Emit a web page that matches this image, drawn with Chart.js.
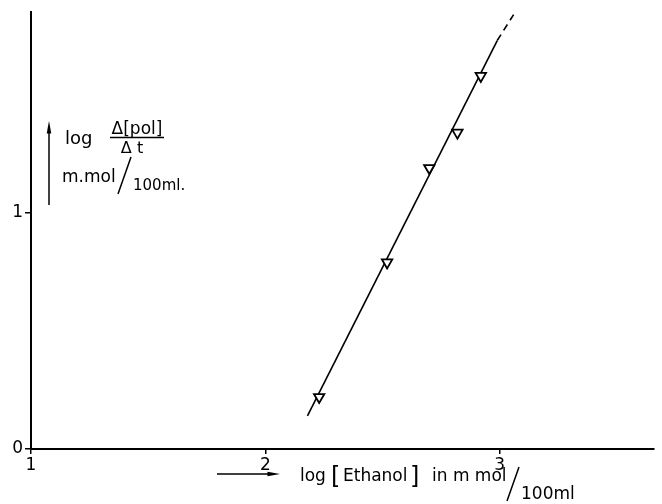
<!DOCTYPE html>
<html>
<head>
<meta charset="utf-8">
<script src="https://cdn.jsdelivr.net/npm/chart.js@4.4.1/dist/chart.umd.min.js"></script>
<style>
  html, body { margin: 0; padding: 0; background: #fff; }
</style>
</head>
<body>
<canvas id="plot" width="662" height="504"></canvas>
<script>
// values
const xTicks = [1, 2, 3];
const yTicks = [0, 1];
const logEthanol = [2.23, 2.52, 2.70, 2.82, 2.92];
const logRate = [0.22, 0.79, 1.19, 1.34, 1.58];
const fitX = [2.18, 2.99];
const fitY = [0.14, 1.73];
const extX = [2.99, 3.06];
const extY = [1.73, 1.84];

const FONT = "'DejaVu Sans', 'Liberation Sans', sans-serif";

function toPoints(xs, ys) {
  return xs.map((x, i) => ({ x: x, y: ys[i] }));
}

function drawArrow(c, x1, y1, x2, y2) {
  const ang = Math.atan2(y2 - y1, x2 - x1);
  c.beginPath();
  c.moveTo(x1, y1);
  c.lineTo(x2, y2);
  c.stroke();
  c.beginPath();
  c.moveTo(x2 + Math.cos(ang) * 7, y2 + Math.sin(ang) * 7);
  c.lineTo(x2 + Math.cos(ang + 2.75) * 6, y2 + Math.sin(ang + 2.75) * 6);
  c.lineTo(x2 + Math.cos(ang - 2.75) * 6, y2 + Math.sin(ang - 2.75) * 6);
  c.closePath();
  c.fill();
}

function text(c, s, x, y, size, align) {
  c.font = size + "px " + FONT;
  c.textAlign = align || "left";
  c.fillText(s, x, y);
}

const axisLabels = {
  id: "axisLabels",
  afterDraw(chart) {
    const c = chart.ctx;
    c.save();
    c.fillStyle = "#000";
    c.strokeStyle = "#000";
    c.lineWidth = 1.5;
    c.textBaseline = "alphabetic";

    // y title
    drawArrow(c, 49, 205, 49, 128);
    text(c, "log", 65, 144, 18);
    text(c, "Δ[pol]", 137, 134, 17, "center");
    c.beginPath();
    c.moveTo(110, 137.5);
    c.lineTo(164, 137.5);
    c.stroke();
    text(c, "Δ t", 132, 153, 16, "center");
    text(c, "m.mol", 62, 182, 17);
    c.beginPath();
    c.moveTo(118, 194);
    c.lineTo(131, 157);
    c.stroke();
    text(c, "100ml.", 133, 190, 15);

    // x title
    drawArrow(c, 217, 474, 273, 474);
    text(c, "log", 300, 481, 17);
    text(c, "[", 331, 484, 24);
    text(c, "Ethanol", 343, 481, 17);
    text(c, "]", 410, 484, 24);
    text(c, "in m mol", 432, 481, 17);
    c.beginPath();
    c.moveTo(507, 501);
    c.lineTo(519, 467);
    c.stroke();
    text(c, "100ml", 521, 499, 17);

    c.restore();
  }
};

const ctx = document.getElementById("plot").getContext("2d");

const chart = new Chart(ctx, {
  type: "scatter",
  data: {
    datasets: [
      {
        data: toPoints(logEthanol, logRate),
        pointStyle: "triangle",
        rotation: 180,
        pointRadius: 6,
        pointBackgroundColor: "#fff",
        pointBorderColor: "#000",
        pointBorderWidth: 1.8,
        showLine: false
      },
      {
        data: toPoints(fitX, fitY),
        showLine: true,
        borderColor: "#000",
        borderWidth: 1.6,
        pointRadius: 0
      },
      {
        data: toPoints(extX, extY),
        showLine: true,
        borderColor: "#000",
        borderWidth: 1.6,
        borderDash: [7, 5],
        pointRadius: 0
      }
    ]
  },
  options: {
    responsive: false,
    animation: false,
    devicePixelRatio: 1,
    layout: {
      padding: { top: 12, left: 0, right: 0, bottom: 0 }
    },
    plugins: {
      legend: { display: false },
      tooltip: { enabled: false }
    },
    scales: {
      x: {
        type: "linear",
        min: 1,
        max: 3.66,
        afterBuildTicks: (s) => {
          s.ticks = xTicks.map((v) => ({ value: v }));
        },
        afterFit: (s) => {
          s.height = 55;
        },
        ticks: {
          color: "#000",
          padding: 1,
          font: { family: FONT, size: 17 }
        },
        grid: {
          drawOnChartArea: false,
          tickLength: 5,
          color: "#000",
          lineWidth: 1.5
        },
        border: { color: "#000", width: 2 }
      },
      y: {
        type: "linear",
        min: 0,
        max: 1.85,
        afterBuildTicks: (s) => {
          s.ticks = yTicks.map((v) => ({ value: v }));
        },
        afterFit: (s) => {
          s.width = 31;
        },
        ticks: {
          color: "#000",
          padding: 2,
          font: { family: FONT, size: 17 }
        },
        grid: {
          drawOnChartArea: false,
          tickLength: 6,
          color: "#000",
          lineWidth: 1.5
        },
        border: { color: "#000", width: 2 }
      }
    }
  },
  plugins: [axisLabels]
});
</script>
</body>
</html>
